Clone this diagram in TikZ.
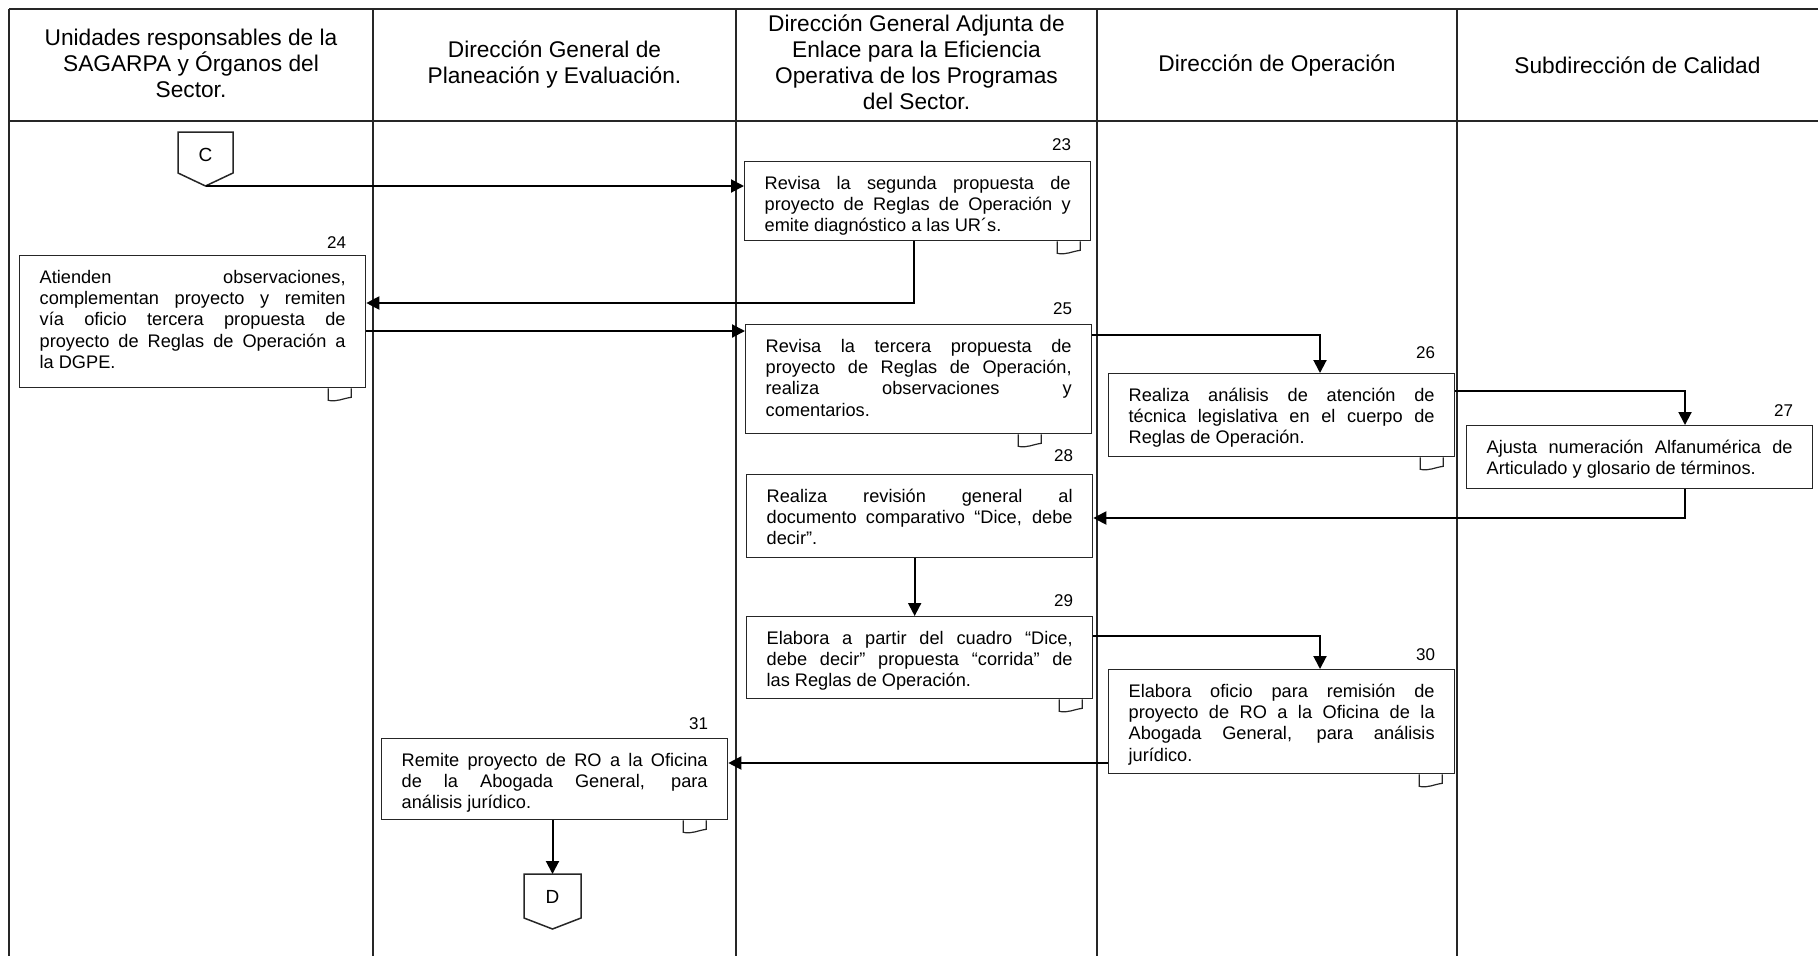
\documentclass[tikz,border=0pt]{standalone}
\usepackage{fontspec}
\setmainfont{Liberation Sans}
\usetikzlibrary{calc,arrows.meta}
\newcommand{\bodyfont}{\fontsize{18.2}{21.4}\selectfont}
\newcommand{\headfont}{\fontsize{22.7}{26}\selectfont}
\newcommand{\numfont}{\fontsize{17}{20}\selectfont}
\newcommand{\bxt}[2]{\parbox[c][#1][t]{306pt}{\tolerance=10000\hyphenpenalty=10000\rule{0pt}{27.5pt}\ignorespaces#2}}
\newcommand{\doctab}[2]{\begin{scope}[shift={($(#1.south east)+(#2,0)$)}]
  \draw[tabline] (0,0) -- (0,12) .. controls (8,14) and (15,10) .. (23,9) -- (23,0);
\end{scope}}
\tikzset{
  lane/.style={line width=1.5pt, black!85},
  hline/.style={line width=2.6pt, black!85},
  head/.style={font=\headfont, align=center, inner sep=0pt},
  actbox/.style={draw=black!85, line width=1.3pt, fill=white, inner xsep=20pt, inner ysep=0pt, font=\bodyfont, anchor=north west},
  num/.style={font=\numfont, inner sep=0pt, anchor=base east},
  arr/.style={line width=2pt, black, -{Triangle[length=13pt,width=13pt]}},
  conn/.style={draw=black!85, line width=1.5pt, fill=white},
  tabline/.style={line width=1.2pt, black!85},
  connlabel/.style={font=\fontsize{19}{22}\selectfont, inner sep=0pt}
}
\begin{document}
\begin{tikzpicture}[x=1pt, y=-1pt]
\useasboundingbox (0,0) rectangle (1818,956);
% swimlane frame
\draw[lane] (9,9) -- (9,956);
\draw[lane] (373,9) -- (373,956);
\draw[lane] (736,9) -- (736,956);
\draw[lane] (1097,9) -- (1097,956);
\draw[lane] (1457,9) -- (1457,956);
\draw[hline] (9,9) -- (1818,9);
\draw[hline] (9,121) -- (1818,121);
% headers
\node[head] (h1) at (191,63) {Unidades responsables de la\\SAGARPA y Órganos del\\Sector.};
\node[head] (h2) at (554.5,64) {Dirección General de\\Planeación y Evaluación.};
\node[head] (h3) at (916.5,62) {Dirección General Adjunta de\\Enlace para la Eficiencia\\Operativa de los Programas\\del Sector.};
\node[head] (h4) at (1277,65) {Dirección de Operación};
\node[head] (h5) at (1637.5,65) {Subdirección de Calidad};
% off-page connector C
\draw[conn] (178,132) -- (233,132) -- (233,173) -- (205.5,186) -- (178,173) -- cycle;
\node[connlabel] (C) at (205.5,155) {C};
\coordinate (Ctip) at (205.5,186);
% activity boxes
\node[actbox] (b23) at (744,161) {\bxt{79pt}{Revisa la segunda propuesta de\linebreak proyecto de Reglas de Operación y\linebreak emite diagnóstico a las UR´s.}};
\node[actbox] (b24) at (19,255) {\bxt{132pt}{Atienden observaciones,\linebreak complementan proyecto y remiten\linebreak vía oficio tercera propuesta de\linebreak proyecto de Reglas de Operación a\linebreak la DGPE.}};
\node[actbox] (b25) at (745,324) {\bxt{109pt}{Revisa la tercera propuesta de\linebreak proyecto de Reglas de Operación,\linebreak realiza observaciones y\linebreak comentarios.}};
\node[actbox] (b26) at (1108,373) {\bxt{83pt}{Realiza análisis de atención de\linebreak técnica legislativa en el cuerpo de\linebreak Reglas de Operación.}};
\node[actbox] (b27) at (1466,425) {\bxt{63pt}{Ajusta numeración Alfanumérica de\linebreak Articulado y glosario de términos.}};
\node[actbox] (b28) at (746,474) {\bxt{83pt}{Realiza revisión general al\linebreak documento comparativo “Dice, debe\linebreak decir”.}};
\node[actbox] (b29) at (746,616) {\bxt{82pt}{Elabora a partir del cuadro “Dice,\linebreak debe decir” propuesta “corrida” de\linebreak las Reglas de Operación.}};
\node[actbox] (b30) at (1108,669) {\bxt{104pt}{Elabora oficio para remisión de\linebreak proyecto de RO a la Oficina de la\linebreak Abogada General, para análisis\linebreak jurídico.}};
\node[actbox] (b31) at (381,738) {\bxt{81pt}{Remite proyecto de RO a la Oficina\linebreak de la Abogada General, para\linebreak análisis jurídico.}};
% step numbers
\node[num] (n23) at ($(b23.north east)+(-20,-11)$) {23};
\node[num] (n24) at ($(b24.north east)+(-20,-7)$) {24};
\node[num] (n25) at ($(b25.north east)+(-20,-10)$) {25};
\node[num] (n26) at ($(b26.north east)+(-20,-15)$) {26};
\node[num] (n27) at ($(b27.north east)+(-20,-9)$) {27};
\node[num] (n28) at ($(b28.north east)+(-20,-13)$) {28};
\node[num] (n29) at ($(b29.north east)+(-20,-10)$) {29};
\node[num] (n30) at ($(b30.north east)+(-20,-9)$) {30};
\node[num] (n31) at ($(b31.north east)+(-20,-9)$) {31};
% document tabs
\doctab{b23}{-34}
\doctab{b24}{-38}
\doctab{b25}{-74}
\doctab{b26}{-35}
\doctab{b29}{-34}
\doctab{b30}{-36}
\doctab{b31}{-45}
% off-page connector D
\draw[conn] (524,874) -- (581,874) -- (581,918) -- (552.5,929) -- (524,918) -- cycle;
\node[connlabel] (D) at (552.5,897) {D};
\coordinate (Dtop) at (552.5,874);
% connection points
\coordinate (a23out) at ($(b23.south)+(-4,0)$);
\coordinate (b24in) at ($(b24.north east)+(0,48)$);
\coordinate (a24out) at ($(b24.north east)+(0,76)$);
\coordinate (a25out) at ($(b25.north east)+(0,11)$);
\coordinate (b26in) at ($(b26.north west)+(212,0)$);
\coordinate (a26out) at ($(b26.north east)+(0,18)$);
\coordinate (b27in) at ($(b27.north west)+(219,0)$);
\coordinate (b27out) at ($(b27.south west)+(219,0)$);
\coordinate (b28in) at ($(b28.north east)+(0,44)$);
\coordinate (a28out) at ($(b28.south)+(-5,0)$);
\coordinate (b29in) at ($(b29.north)+(-5,0)$);
\coordinate (a29out) at ($(b29.north east)+(0,20)$);
\coordinate (b30in) at ($(b30.north west)+(212,0)$);
\coordinate (a30out) at ($(b30.north west)+(0,94)$);
% connectors
\draw[arr] (Ctip) -- (Ctip -| b23.west);
\draw[arr] (a23out) |- (b24in);
\draw[arr] (a24out) -- (a24out -| b25.west);
\draw[arr] (a25out) -| (b26in);
\draw[arr] (a26out) -| (b27in);
\draw[arr] (b27out) |- (b28in);
\draw[arr] (a28out) -- (b29in);
\draw[arr] (a29out) -| (b30in);
\draw[arr] (a30out) -- (a30out -| b31.east);
\draw[arr] (b31.south -| Dtop) -- (Dtop);
\end{tikzpicture}
\end{document}
